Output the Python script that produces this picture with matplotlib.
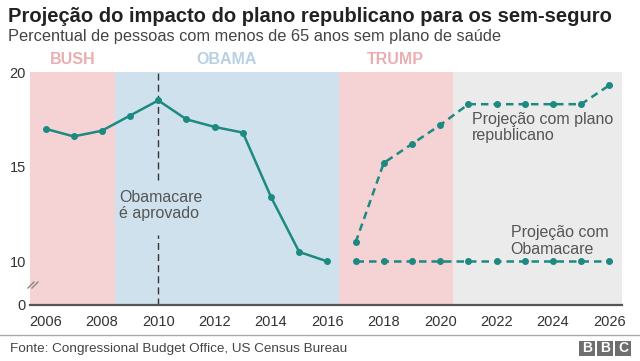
import matplotlib
matplotlib.use("Agg")
import matplotlib.pyplot as plt
from matplotlib.patches import Rectangle

plt.rcParams['font.family'] = ['Liberation Sans', 'DejaVu Sans']

# data
years_hist = [2006, 2007, 2008, 2009, 2010, 2011, 2012, 2013, 2014, 2015, 2016]
uninsured_hist = [17.0, 16.6, 16.9, 17.7, 18.5, 17.5, 17.1, 16.8, 13.4, 10.5, 10.0]

years_proj = [2017, 2018, 2019, 2020, 2021, 2022, 2023, 2024, 2025, 2026]
proj_republican = [11.0, 15.2, 16.2, 17.2, 18.3, 18.3, 18.3, 18.3, 18.3, 19.3]
proj_obamacare = [10.0, 10.0, 10.0, 10.0, 10.0, 10.0, 10.0, 10.0, 10.0, 10.0]

eras = ["BUSH", "OBAMA", "TRUMP", ""]
era_bounds = [2005.45, 2008.45, 2016.4, 2020.45, 2026.45]
era_fill = ["#f5d2d4", "#cfe1ed", "#f5d2d4", "#ebebeb"]
era_text = ["#eaaeb2", "#b9d0e2", "#eaaeb2", None]

xticks = list(range(2006, 2027, 2))
ytick_vals = [10, 15, 20]
y_bottom = 7.7  # broken axis: bottom of plot stands for 0

teal = "#1c8a80"

fig = plt.figure(figsize=(6.4, 3.61), dpi=100)
ax = fig.add_axes([30 / 640, 1 - 305 / 361, 592 / 640, 233 / 361])

for i in range(len(eras)):
    ax.axvspan(era_bounds[i], era_bounds[i + 1], color=era_fill[i], lw=0, zorder=0)
    if eras[i]:
        ax.text((era_bounds[i] + era_bounds[i + 1]) / 2, 20.25, eras[i],
                ha="center", va="bottom", fontsize=11.5, fontweight="bold",
                color=era_text[i])

# obamacare passed marker
ax.plot([2010, 2010], [y_bottom, 11.4], color="#333333", lw=1, ls=(0, (5, 3)), zorder=1)
ax.plot([2010, 2010], [14.3, 20], color="#333333", lw=1, ls=(0, (5, 3)), zorder=1)
ax.text(2008.62, 12.95, "Obamacare\né aprovado", fontsize=11.5, color="#555555",
        va="center", ha="left", linespacing=1.15)

ax.plot(years_hist, uninsured_hist, color=teal, lw=1.8, marker="o", ms=4, zorder=3)
ax.plot(years_proj, proj_republican, color=teal, lw=1.8, ls=(0, (3, 2)),
        marker="o", ms=4, zorder=3)
ax.plot(years_proj, proj_obamacare, color=teal, lw=1.8, ls=(0, (3, 2)),
        marker="o", ms=4, zorder=3)

ax.text(2021.12, 17.07, "Projeção com plano\nrepublicano", fontsize=11.5,
        color="#555555", va="center", ha="left", linespacing=1.15)
ax.text(2022.5, 11.09, "Projeção com\nObamacare", fontsize=11.5,
        color="#555555", va="center", ha="left", linespacing=1.15)

ax.set_xlim(era_bounds[0], era_bounds[-1])
ax.set_ylim(y_bottom, 20)
ax.set_xticks(xticks)
ax.set_xticklabels([str(x) for x in xticks])
ax.set_yticks([y_bottom] + ytick_vals)
ax.set_yticklabels(["0"] + [str(v) for v in ytick_vals])
ax.tick_params(length=0, labelsize=10.5, colors="#333333", pad=3)
ax.tick_params(axis="x", pad=7)
for s in ["left", "right", "top"]:
    ax.spines[s].set_visible(False)
ax.spines["bottom"].set_color("#555555")
ax.spines["bottom"].set_linewidth(1.6)

# axis break mark
for dx in (0, 4):
    fig.add_artist(plt.Line2D([(28 + dx) / 640, (34 + dx) / 640],
                              [1 - 288 / 361, 1 - 282 / 361],
                              color="#888888", lw=1))

fig.text(8 / 640, 1 - 17 / 361, "Projeção do impacto do plano republicano para os sem-seguro",
         fontsize=14.5, fontweight="bold", color="#222222", va="center", ha="left")
fig.text(8 / 640, 1 - 36 / 361, "Percentual de pessoas com menos de 65 anos sem plano de saúde",
         fontsize=11.8, color="#444444", va="center", ha="left")

fig.add_artist(plt.Line2D([0, 1], [1 - 335 / 361, 1 - 335 / 361], color="#aaaaaa", lw=1))
fig.text(10 / 640, 1 - 349 / 361, "Fonte: Congressional Budget Office, US Census Bureau",
         fontsize=9.7, color="#444444", va="center", ha="left")

# BBC blocks
for i, letter in enumerate("BBC"):
    x0 = 579 + i * 18
    fig.add_artist(Rectangle((x0 / 640, 1 - 356 / 361), 16 / 640, 15 / 361,
                             transform=fig.transFigure, color="#6e6e6e", lw=0))
    fig.text((x0 + 8) / 640, 1 - 348.5 / 361, letter, color="white",
             fontsize=10, fontweight="bold", ha="center", va="center")

fig.savefig("out.png", dpi=100)
